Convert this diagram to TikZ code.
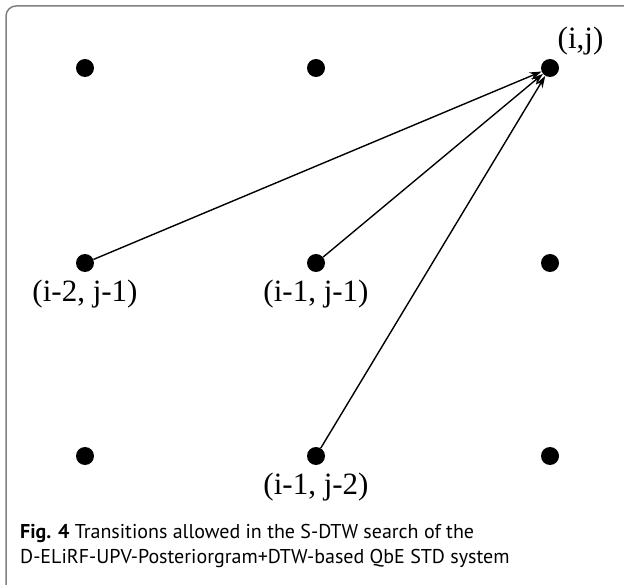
\documentclass[tikz,border=0pt]{standalone}
\usepackage{fontspec}
\newfontfamily\captionfont{PT Sans}
\newfontfamily\labelfont{Liberation Serif}
\usetikzlibrary{arrows.meta, positioning}
\definecolor{framegray}{RGB}{128,128,128}

\begin{document}
\begin{tikzpicture}[
        x=1pt, y=-1pt,
        dot/.style={circle, fill=black, inner sep=0pt, minimum size=18pt},
        idx/.style={inner sep=0pt, font=\labelfont\fontsize{31}{36}\selectfont},
        arrow/.style={-{Stealth[length=12pt, width=8pt]}, line width=1.4pt}
    ]
        \useasboundingbox (0,0) rectangle (624,585);

        % Frame
        \draw[framegray, line width=1.5pt, rounded corners=10pt] (6,620) -- (6,6) -- (660,6);

        % Grid points (i-\di, j-\dj)
        \foreach \di/\x in {2/85, 1/316, 0/550}
            \foreach \dj/\y in {0/68, 1/263, 2/456}
                \node[dot] (n\di\dj) at (\x,\y) {};

        % Labels
        \node[idx, above right=6pt and 1pt of n00] (l00) {(i,j)};
        \node[idx, below=8pt of n21] (l21) {(i-2, j-1)};
        \node[idx, below=8pt of n11] (l11) {(i-1, j-1)};
        \node[idx, below=8pt of n12] (l12) {(i-1, j-2)};

        % Transitions
        \draw[arrow] (n21) -- (n00);
        \draw[arrow] (n11) -- (n00);
        \draw[arrow] (n12) -- (n00);

        % Caption
        \node[anchor=north west, inner sep=0pt, align=left,
              font=\captionfont\fontsize{20}{25}\selectfont] (cap) at (20,524)
            {\textbf{Fig. 4} Transitions allowed in the S-DTW search of the\\
             D-ELiRF-UPV-Posteriorgram+DTW-based QbE STD system};

    \end{tikzpicture}
\end{document}
